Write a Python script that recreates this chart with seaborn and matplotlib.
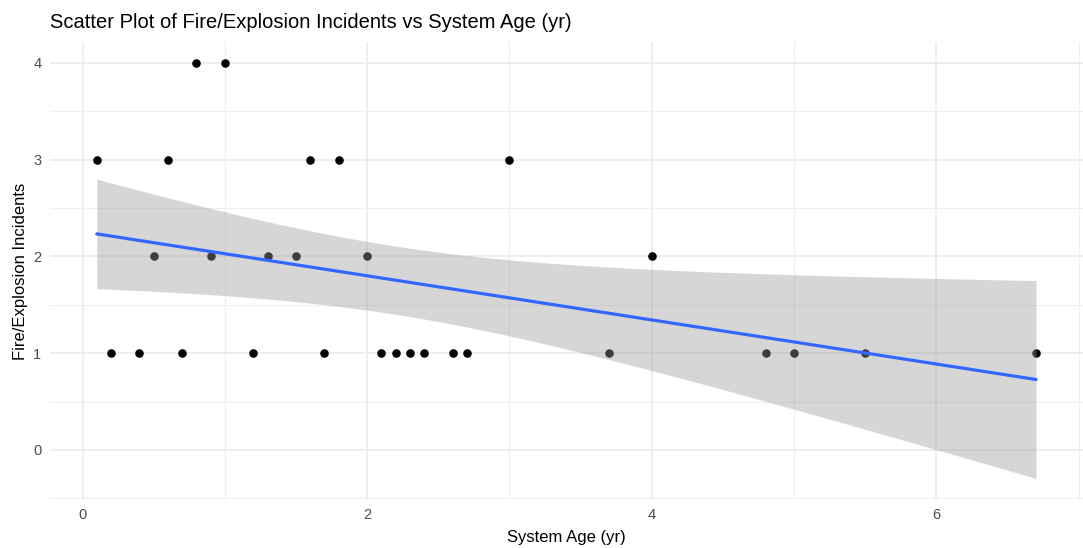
import numpy as np
import pandas as pd
import matplotlib
matplotlib.use("Agg")
import matplotlib.pyplot as plt
from matplotlib.ticker import MultipleLocator
import seaborn as sns

# Data
system_age = [0.1, 0.2, 0.4, 0.5, 0.6, 0.7, 0.8, 0.9, 1.0, 1.2, 1.3, 1.5, 1.6, 1.7,
              1.8, 2.0, 2.1, 2.2, 2.3, 2.4, 2.6, 2.7, 3.0, 3.7, 4.0, 4.8, 5.0, 5.5, 6.7]
incidents = [3, 1, 1, 2, 3, 1, 4, 2, 4, 1, 2, 2, 3, 1,
             3, 2, 1, 1, 1, 1, 1, 1, 3, 1, 2, 1, 1, 1, 1]
x_ticks = [0, 2, 4, 6]
y_ticks = [0, 1, 2, 3, 4]

df = pd.DataFrame({"System Age (yr)": system_age,
                   "Fire/Explosion Incidents": incidents})

sns.set_theme(style="white")
plt.rcParams["font.family"] = ["Liberation Sans", "DejaVu Sans"]

fig = plt.figure(figsize=(10.83, 5.48), dpi=100)
ax = fig.add_axes([0.046, 0.088, 0.954, 0.835])

# points and fitted line through seaborn
sns.regplot(data=df, x="System Age (yr)", y="Fire/Explosion Incidents", ax=ax,
            ci=None, truncate=True,
            scatter_kws=dict(color="black", s=38, alpha=1, linewidths=0, zorder=2),
            line_kws=dict(color="#3366FF", lw=2.3, zorder=4))

# analytic 95% confidence band of the linear fit (as ggplot's geom_smooth(method="lm"))
x = np.asarray(system_age, float)
y = np.asarray(incidents, float)
n = len(x)
slope, intercept = np.polyfit(x, y, 1)
resid = y - (intercept + slope * x)
s_err = np.sqrt(np.sum(resid ** 2) / (n - 2))
sxx = np.sum((x - x.mean()) ** 2)
xg = np.linspace(x.min(), x.max(), 200)
yg = intercept + slope * xg
t_crit = 2.0518  # t quantile, 0.975, df = 27
half = t_crit * s_err * np.sqrt(1.0 / n + (xg - x.mean()) ** 2 / sxx)
ax.fill_between(xg, yg - half, yg + half, color="#999999", alpha=0.4,
                linewidth=0, zorder=3)

ax.set_xlim(-0.23, 7.03)
ax.set_ylim(-0.515, 4.215)
ax.set_xticks(x_ticks)
ax.set_yticks(y_ticks)
ax.xaxis.set_minor_locator(MultipleLocator(1))
ax.yaxis.set_minor_locator(MultipleLocator(0.5))
ax.grid(which="major", color="#EBEBEB", lw=1.2)
ax.grid(which="minor", color="#EFEFEF", lw=0.8)
ax.set_axisbelow(True)
for s in ax.spines.values():
    s.set_visible(False)
ax.tick_params(which="both", length=0, labelsize=10.5, labelcolor="#4D4D4D", pad=6)

ax.set_xlabel("System Age (yr)", fontsize=12, color="black", labelpad=6)
ax.set_ylabel("Fire/Explosion Incidents", fontsize=12, color="black", labelpad=4)
ax.set_title("Scatter Plot of Fire/Explosion Incidents vs System Age (yr)",
             fontsize=14.5, loc="left", color="black", pad=10)

fig.savefig("out.png", dpi=100, facecolor="white")
